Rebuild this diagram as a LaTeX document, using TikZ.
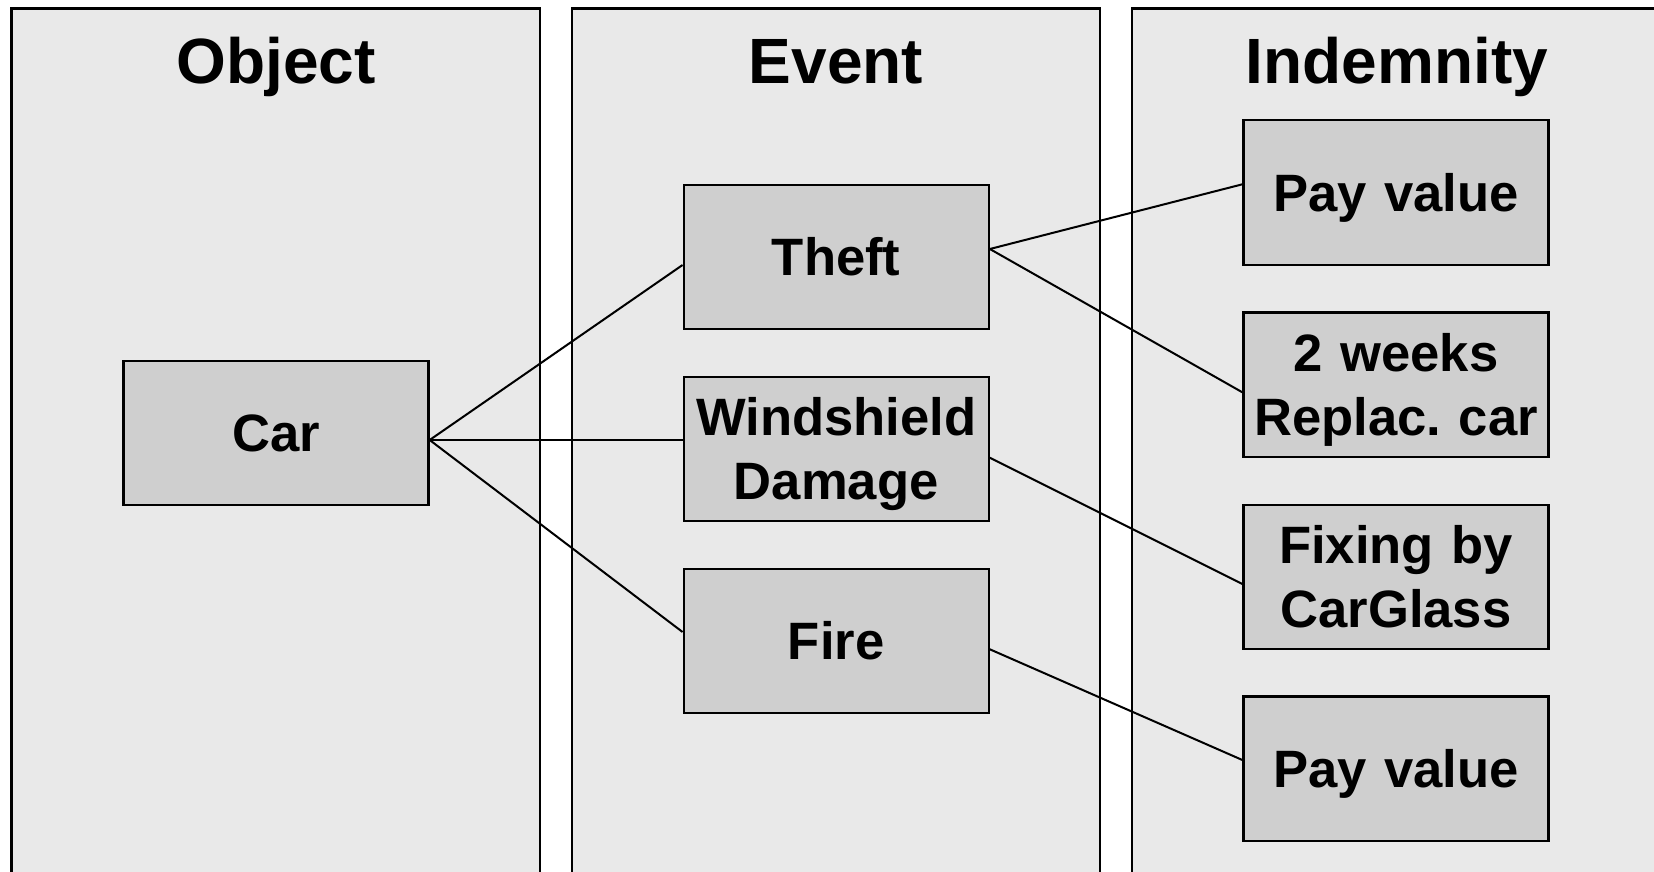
\documentclass[tikz,border=0pt]{standalone}
\usepackage{fontspec}
\setmainfont{Liberation Sans}
\usetikzlibrary{calc}
\definecolor{panelgray}{HTML}{E9E9E9}
\definecolor{boxgray}{HTML}{CFCFCF}
\frenchspacing

\begin{document}
\begin{tikzpicture}[x=1pt,y=-1pt,
  panel/.style={fill=panelgray, draw=black, line width=2.3pt},
  title/.style={font=\bfseries\fontsize{64}{70}\selectfont, anchor=base, inner sep=0pt},
  item/.style={draw=black, fill=boxgray, line width=2.3pt,
    minimum width=305pt, minimum height=144.5pt, inner sep=0pt,
    text width=300pt, align=center,
    font=\bfseries\fontsize{52.6}{64}\selectfont,
    text height=37.7pt, text depth=0pt},
  item2/.style={item, text depth=64pt},
  link/.style={line width=2pt, draw=black}]

  % canvas
  \useasboundingbox (0,0) rectangle (1654,872);
  \fill[white] (0,0) rectangle (1654,872);
  \clip (0,0) rectangle (1654,872);

  % three column panels, open at the bottom
  \draw[panel] (11.6,895) -- (11.6,8.4) -- (540,8.4) -- (540,895);
  \draw[panel] (571.7,895) -- (571.7,8.4) -- (1100.3,8.4) -- (1100.3,895);
  \draw[panel] (1132.3,895) -- (1132.3,8.4) -- (1661,8.4) -- (1661,895);

  % column titles
  \node[title] (tobj) at (276,84) {Object};
  \node[title] (tevt) at (836,84) {Event};
  \node[title] (tind) at (1397,84) {Indemnity};

  % object
  \node[item] (car) at (276,433) {Car};

  % events
  \node[item]  (theft) at (836.2,257) {Theft};
  \node[item2] (wind)  at (836.2,449) {Windshield\\Damage};
  \node[item]  (fire)  at (836.2,641) {Fire};

  % indemnities
  \node[item]  (pay1)  at (1396,192.6) {Pay value};
  \node[item2] (weeks) at (1396,384.7) {2 weeks\\Replac.\ car};
  \node[item2] (fix)   at (1396,577) {Fixing by\\CarGlass};
  \node[item]  (pay2)  at (1396,768.7) {Pay value};

  % connectors
  \draw[link] ($(car.east)+(0,7)$) -- ($(theft.west)+(0,8)$);
  \draw[link] ($(car.east)+(0,7)$) -- ($(wind.west)+(0,-9)$);
  \draw[link] ($(car.east)+(0,7)$) -- ($(fire.west)+(0,-9)$);
  \draw[link] ($(theft.east)+(0,-8)$) -- ($(pay1.west)+(0,-8.3)$);
  \draw[link] ($(theft.east)+(0,-8)$) -- ($(weeks.west)+(0,7.6)$);
  \draw[link] ($(wind.east)+(0,8.7)$) -- ($(fix.west)+(0,7)$);
  \draw[link] ($(fire.east)+(0,8.3)$) -- ($(pay2.west)+(0,-8.7)$);
\end{tikzpicture}
\end{document}
